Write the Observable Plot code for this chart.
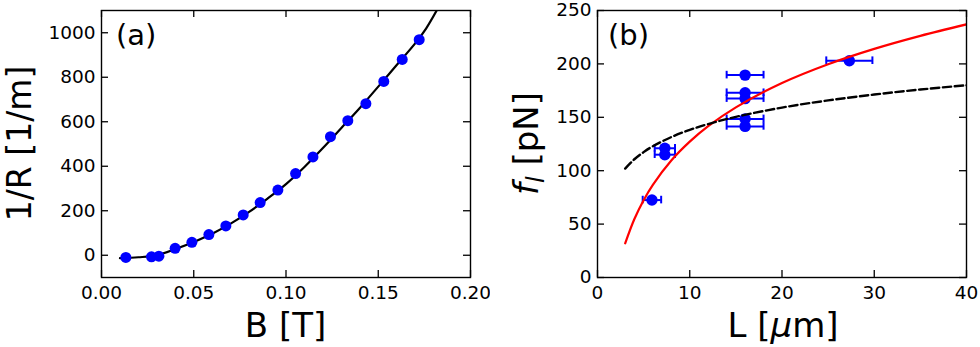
<!DOCTYPE html>
<html><head><meta charset="utf-8">
<script src="https://cdn.jsdelivr.net/npm/d3@7"></script>
<script src="https://cdn.jsdelivr.net/npm/@observablehq/plot@0.6"></script>
<style>
body{margin:0;background:#fff;}
#wrap{position:relative;width:980px;height:347px;overflow:hidden;background:#fff;}
#wrap svg{position:absolute;top:0;}
</style></head><body><div id="wrap"></div>
<script>
// Panel (a): 1/R vs B
const bField = [0.0132, 0.0271, 0.0311, 0.0399, 0.0490, 0.0582, 0.0674, 0.0768, 0.0860, 0.0956, 0.1052, 0.1146, 0.1241, 0.1335, 0.1433, 0.1530, 0.1630, 0.1722];
const invR = [-10, -7, -4, 31, 58, 93, 132, 181, 237, 293, 367, 442, 533, 605, 681, 781, 880, 969];
const fitB = [0.010, 0.02, 0.03, 0.04, 0.05, 0.06, 0.07, 0.08, 0.09, 0.10, 0.11, 0.12, 0.13, 0.14, 0.15, 0.16, 0.17, 0.176, 0.183];
const fitInvR = [-13, -9, 0, 28, 60, 97, 142, 195, 255, 320, 397, 482, 572, 662, 758, 855, 952, 1020, 1120];
const xTicksA = [0, 0.05, 0.10, 0.15, 0.20];
const yTicksA = [0, 200, 400, 600, 800, 1000];

// Panel (b): f_l vs L
const lenL = [5.9, 7.3, 7.3, 16, 16, 16, 16, 16, 27.3];
const lenErr = [1.0, 1.1, 1.1, 2.0, 2.0, 2.0, 2.0, 2.0, 2.5];
const force = [72.5, 121, 115, 189.5, 173, 167.5, 148.5, 141.5, 203];
const curveL = [3, 4, 5, 6, 8, 10, 12, 15, 20, 25, 30, 35, 40];
const redF = [32, 54.8, 72.4, 86.8, 109.6, 127.2, 141.7, 159.3, 182.1, 199.7, 214.1, 226.3, 237];
const dashF = [102, 110.7, 117.4, 122.9, 131.5, 138.2, 143.7, 150.4, 159.1, 165.8, 171.3, 176, 180];
const xTicksB = [0, 10, 20, 30, 40];
const yTicksB = [0, 50, 100, 150, 200, 250];

const FONT = "DejaVu Sans";
const W = 490, H = 347, MT = 10, MB = 70;
const plotH = H - MT - MB;
const TL = 7;

const ptsA = bField.map((b, i) => ({b, r: invR[i]}));
const fitA = fitB.map((b, i) => ({b, r: fitInvR[i]}));
const ptsB = lenL.map((l, i) => ({l, f: force[i], lo: l - lenErr[i], hi: l + lenErr[i]}));
const redB = curveL.map((l, i) => ({l, f: redF[i]}));
const dashB = curveL.map((l, i) => ({l, f: dashF[i]}));

function inwardTicks(xt, yt, plotW) {
  return [
    Plot.tickX(xt, {x: d => d, insetTop: plotH - TL, stroke: "#000", strokeWidth: 1.3}),
    Plot.tickX(xt, {x: d => d, insetBottom: plotH - TL, stroke: "#000", strokeWidth: 1.3}),
    Plot.tickY(yt, {y: d => d, insetRight: plotW - TL, stroke: "#000", strokeWidth: 1.3}),
    Plot.tickY(yt, {y: d => d, insetLeft: plotW - TL, stroke: "#000", strokeWidth: 1.3})
  ];
}

const mlA = 101, mrA = 20;
const plotA = Plot.plot({
  width: W, height: H, marginLeft: mlA, marginRight: mrA, marginTop: MT, marginBottom: MB,
  style: {fontFamily: FONT, fontSize: "18.5px", background: "transparent", color: "#000"},
  x: {domain: [0, 0.2], ticks: xTicksA, tickFormat: d3.format(".2f"), tickSize: 0, tickPadding: 8, label: null},
  y: {domain: [-100, 1100], ticks: yTicksA, tickFormat: d3.format("d"), tickSize: 0, tickPadding: 6, label: null},
  marks: [
    ...inwardTicks(xTicksA, yTicksA, W - mlA - mrA),
    Plot.line(fitA, {x: "b", y: "r", stroke: "#000", strokeWidth: 2.2, curve: "catmull-rom", clip: true}),
    Plot.dot(ptsA, {x: "b", y: "r", r: 5.5, fill: "#0000ff", stroke: "none"}),
    Plot.frame({stroke: "#000", strokeWidth: 1.4})
  ]
});

const mlB = 107, mrB = 14;
const plotB = Plot.plot({
  width: W, height: H, marginLeft: mlB, marginRight: mrB, marginTop: MT, marginBottom: MB,
  style: {fontFamily: FONT, fontSize: "18.5px", background: "transparent", color: "#000"},
  x: {domain: [0, 40], ticks: xTicksB, tickFormat: d3.format("d"), tickSize: 0, tickPadding: 8, label: null},
  y: {domain: [0, 250], ticks: yTicksB, tickFormat: d3.format("d"), tickSize: 0, tickPadding: 6, label: null},
  marks: [
    ...inwardTicks(xTicksB, yTicksB, W - mlB - mrB),
    Plot.ruleY(ptsB, {y: "f", x1: "lo", x2: "hi", stroke: "#0000ff", strokeWidth: 2}),
    Plot.ruleX(ptsB, {x: "lo", y1: "f", y2: "f", insetTop: 3.8, insetBottom: 3.8, stroke: "#0000ff", strokeWidth: 2}),
    Plot.ruleX(ptsB, {x: "hi", y1: "f", y2: "f", insetTop: 3.8, insetBottom: 3.8, stroke: "#0000ff", strokeWidth: 2}),
    Plot.dot(ptsB, {x: "l", y: "f", r: 5.7, fill: "#0000ff", stroke: "none"}),
    Plot.line(redB, {x: "l", y: "f", stroke: "#ff0000", strokeWidth: 2.2, curve: "catmull-rom", clip: true}),
    Plot.line(dashB, {x: "l", y: "f", stroke: "#000", strokeWidth: 2.4, strokeDasharray: "8.3,3.6", curve: "catmull-rom", clip: true}),
    Plot.frame({stroke: "#000", strokeWidth: 1.4})
  ]
});

const wrap = document.getElementById("wrap");
plotA.style.left = "0px";
plotB.style.left = "490px";
wrap.appendChild(plotA);
wrap.appendChild(plotB);

function addText(svg, x, y, txt, size, opts = {}) {
  const t = d3.select(svg).append("text")
    .attr("font-family", FONT).attr("font-size", size).attr("fill", "#000")
    .attr("text-anchor", opts.anchor || "middle");
  if (opts.rotate) t.attr("transform", `translate(${x},${y}) rotate(-90)`);
  else t.attr("x", x).attr("y", y);
  return t.text(txt);
}

// Panel (a) labels
addText(plotA, 285.5, 336.5, "B [T]", 34);
addText(plotA, 31, 143.5, "1/R [1/m]", 33, {rotate: true});
addText(plotA, 116, 45, "(a)", 29, {anchor: "start"});

// Panel (b) labels
const xl = addText(plotB, 293, 336.5, "", 34);
xl.append("tspan").text("L [");
xl.append("tspan").attr("font-style", "italic").text("\u03bc");
xl.append("tspan").text("m]");

const yl = addText(plotB, 48, 143.5, "", 34, {rotate: true});
yl.append("tspan").attr("font-style", "italic").text("f");
yl.append("tspan").attr("font-style", "italic").attr("font-size", 24).attr("dy", 6).text("l");
yl.append("tspan").attr("dy", -6).text(" [pN]");

addText(plotB, 118, 45, "(b)", 29, {anchor: "start"});
</script>
</body></html>
